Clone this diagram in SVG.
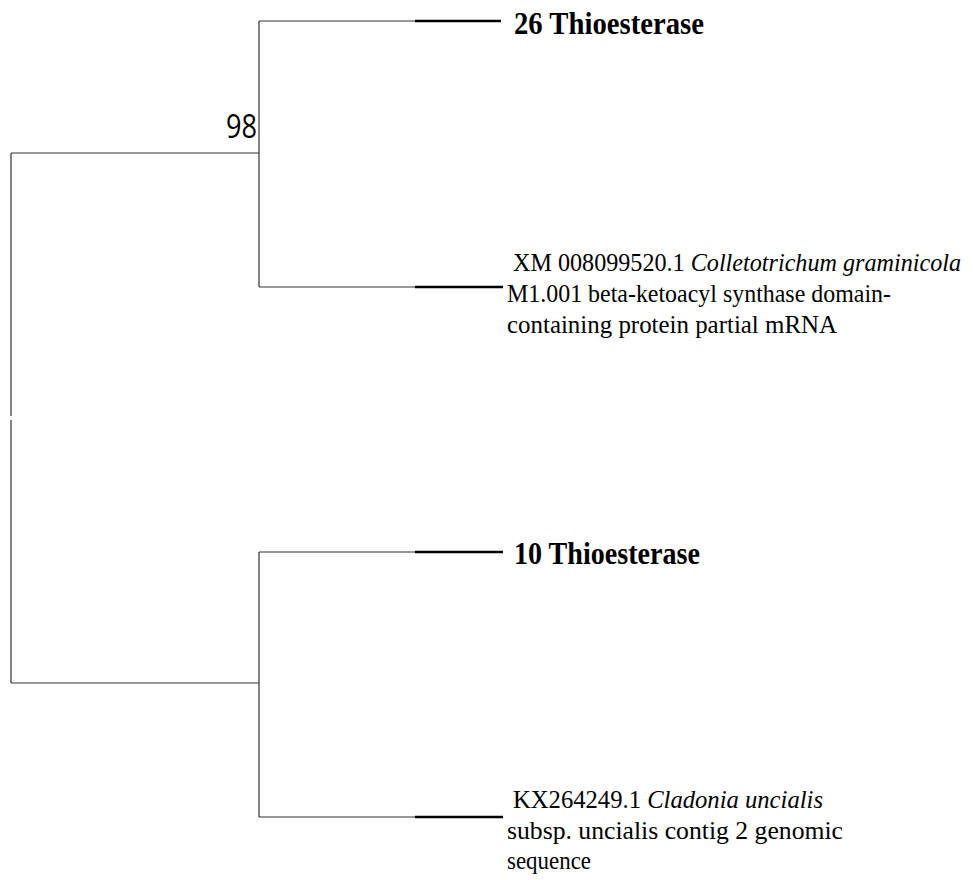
<svg xmlns="http://www.w3.org/2000/svg" width="973" height="880" viewBox="0 0 973 880">
<style>
.thin{stroke:#333;stroke-width:1.2;fill:none}
.thick{stroke:#000;stroke-width:2.5;fill:none}
.lbl{font-family:"Liberation Serif","Times New Roman",serif;font-size:26px;fill:#000}
.bold{font-family:"Liberation Serif","Times New Roman",serif;font-size:31px;font-weight:bold;fill:#000}
.boot{font-family:"Open Sans","DejaVu Sans",sans-serif;font-size:33px;fill:#000}
</style>
<rect width="973" height="880" fill="#fff"/>
<g id="connectors">
<path class="thin" d="M11,153 V416 M11,420 V683"/>
<path class="thin" d="M11,153 H259 M11,683 H259"/>
<path class="thin" d="M259,21 V287 M259,21 H415 M259,287 H415"/>
<path class="thin" d="M259,552 V817 M259,552 H415 M259,817 H415"/>
<path class="thick" d="M415,21 H501 M415,287 H503 M415,552 H503 M415,817 H503"/>
</g>
<g id="bootstrap">
<text class="boot" x="257" y="138" text-anchor="end" textLength="31" lengthAdjust="spacingAndGlyphs">98</text>
</g>
<g id="node-26-thioesterase">
<text class="bold" x="514" y="34" textLength="190" lengthAdjust="spacingAndGlyphs">26 Thioesterase</text>
</g>
<g id="node-colletotrichum">
<text class="lbl" x="513" y="271" textLength="448" lengthAdjust="spacingAndGlyphs">XM 008099520.1 <tspan font-style="italic">Colletotrichum graminicola</tspan></text>
<text class="lbl" x="507" y="302" textLength="384" lengthAdjust="spacingAndGlyphs">M1.001 beta-ketoacyl synthase domain-</text>
<text class="lbl" x="507" y="333" textLength="330" lengthAdjust="spacingAndGlyphs">containing protein partial mRNA</text>
</g>
<g id="node-10-thioesterase">
<text class="bold" x="514" y="564" textLength="186" lengthAdjust="spacingAndGlyphs">10 Thioesterase</text>
</g>
<g id="node-cladonia">
<text class="lbl" x="513" y="808" textLength="310" lengthAdjust="spacingAndGlyphs">KX264249.1 <tspan font-style="italic">Cladonia uncialis</tspan></text>
<text class="lbl" x="507" y="839" textLength="336" lengthAdjust="spacingAndGlyphs">subsp. uncialis contig 2 genomic</text>
<text class="lbl" x="507" y="869" textLength="84" lengthAdjust="spacingAndGlyphs">sequence</text>
</g>
</svg>
